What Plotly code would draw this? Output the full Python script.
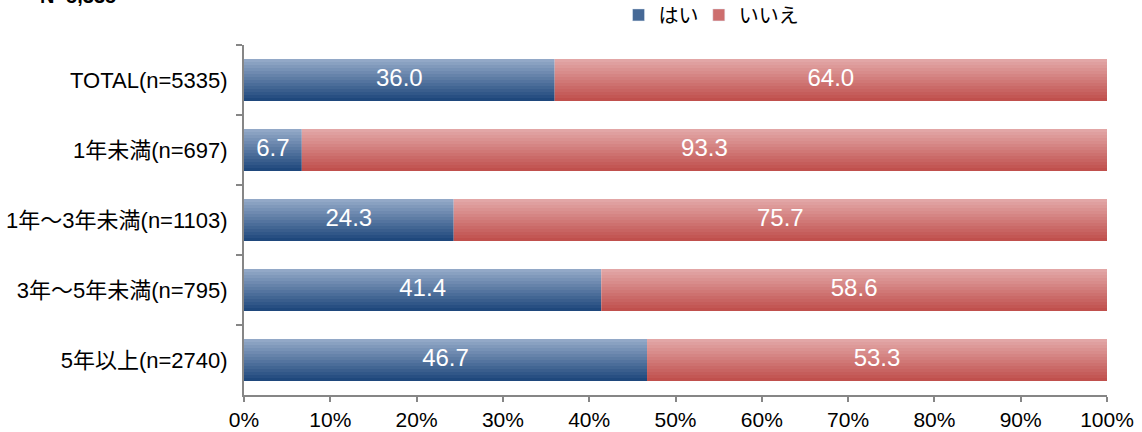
import plotly.graph_objects as go

categories = ["TOTAL(n=5335)", "1年未満(n=697)", "1年～3年未満(n=1103)", "3年～5年未満(n=795)", "5年以上(n=2740)"]
hai = [36.0, 6.7, 24.3, 41.4, 46.7]
iie = [64.0, 93.3, 75.7, 58.6, 53.3]
series_names = ["はい", "いいえ"]
tick_vals = [0, 10, 20, 30, 40, 50, 60, 70, 80, 90, 100]
tick_text = [f"{v}%" for v in tick_vals]

FONT = "Liberation Sans, Arial, Noto Sans CJK JP, sans-serif"

def lerp(c1, c2, t):
    return "rgb(%d,%d,%d)" % tuple(round(a + (b - a) * t) for a, b in zip(c1, c2))

blue_top, blue_bot = (146, 168, 199), (31, 72, 124)
red_top, red_bot = (226, 166, 166), (192, 80, 77)

N = 14
bar_w = 0.6
band = bar_w / N

fig = go.Figure()
for k in range(N):
    t = k / (N - 1)
    off = -bar_w / 2 + k * band
    fig.add_trace(go.Bar(
        y=categories, x=hai, base=[0] * len(hai), orientation="h",
        width=band * 1.02, offset=off,
        marker=dict(color=lerp(blue_top, blue_bot, t), line=dict(width=0)),
        showlegend=False, hoverinfo="skip"))
    fig.add_trace(go.Bar(
        y=categories, x=iie, base=hai, orientation="h",
        width=band * 1.02, offset=off,
        marker=dict(color=lerp(red_top, red_bot, t), line=dict(width=0)),
        showlegend=False, hoverinfo="skip"))

# legend entries (one legend each, for exact placement)
fig.add_trace(go.Bar(y=[None], x=[None], orientation="h", name=series_names[0],
                     marker=dict(color="rgb(70,105,150)"), legend="legend"))
fig.add_trace(go.Bar(y=[None], x=[None], orientation="h", name=series_names[1],
                     marker=dict(color="rgb(205,110,110)"), legend="legend2"))

# value labels
fig.add_trace(go.Scatter(
    y=categories, x=[h / 2 for h in hai], mode="text",
    text=[f"{v:.1f}" for v in hai], textfont=dict(color="white", size=24, family=FONT),
    showlegend=False, hoverinfo="skip"))
fig.add_trace(go.Scatter(
    y=categories, x=[h + i / 2 for h, i in zip(hai, iie)], mode="text",
    text=[f"{v:.1f}" for v in iie], textfont=dict(color="white", size=24, family=FONT),
    showlegend=False, hoverinfo="skip"))

legend_common = dict(orientation="h", xanchor="left", y=1.086, yanchor="middle",
                     font=dict(size=20), itemwidth=30, bgcolor="rgba(0,0,0,0)")

fig.update_layout(
    width=1142, height=432,
    margin=dict(l=244, r=35, t=45, b=37, autoexpand=False),
    paper_bgcolor="white", plot_bgcolor="white",
    barmode="overlay",
    font=dict(family=FONT, size=22, color="black"),
    legend=dict(x=0.434, **legend_common),
    legend2=dict(x=0.527, **legend_common),
    xaxis=dict(range=[0, 100], tickvals=tick_vals, ticktext=tick_text,
               showgrid=False, zeroline=False, showline=True, linecolor="#868686",
               linewidth=2, ticks="outside", ticklen=5, tickcolor="#868686", tickwidth=2,
               tickfont=dict(size=21), fixedrange=True),
    yaxis=dict(type="category", autorange="reversed", categoryorder="array",
               categoryarray=categories, showgrid=False, zeroline=False,
               showline=True, linecolor="#868686", linewidth=2,
               ticks="outside", ticklen=6, tickcolor="#868686", tickwidth=2,
               tickson="boundaries", tickfont=dict(size=22), ticklabelstandoff=10),
    annotations=[dict(text="<b>N=5,335</b>", xref="paper", yref="paper",
                      x=-0.239, y=1.103, xanchor="left", yanchor="bottom",
                      showarrow=False, font=dict(size=20, color="black"))],
)

fig.write_html("out.html")
